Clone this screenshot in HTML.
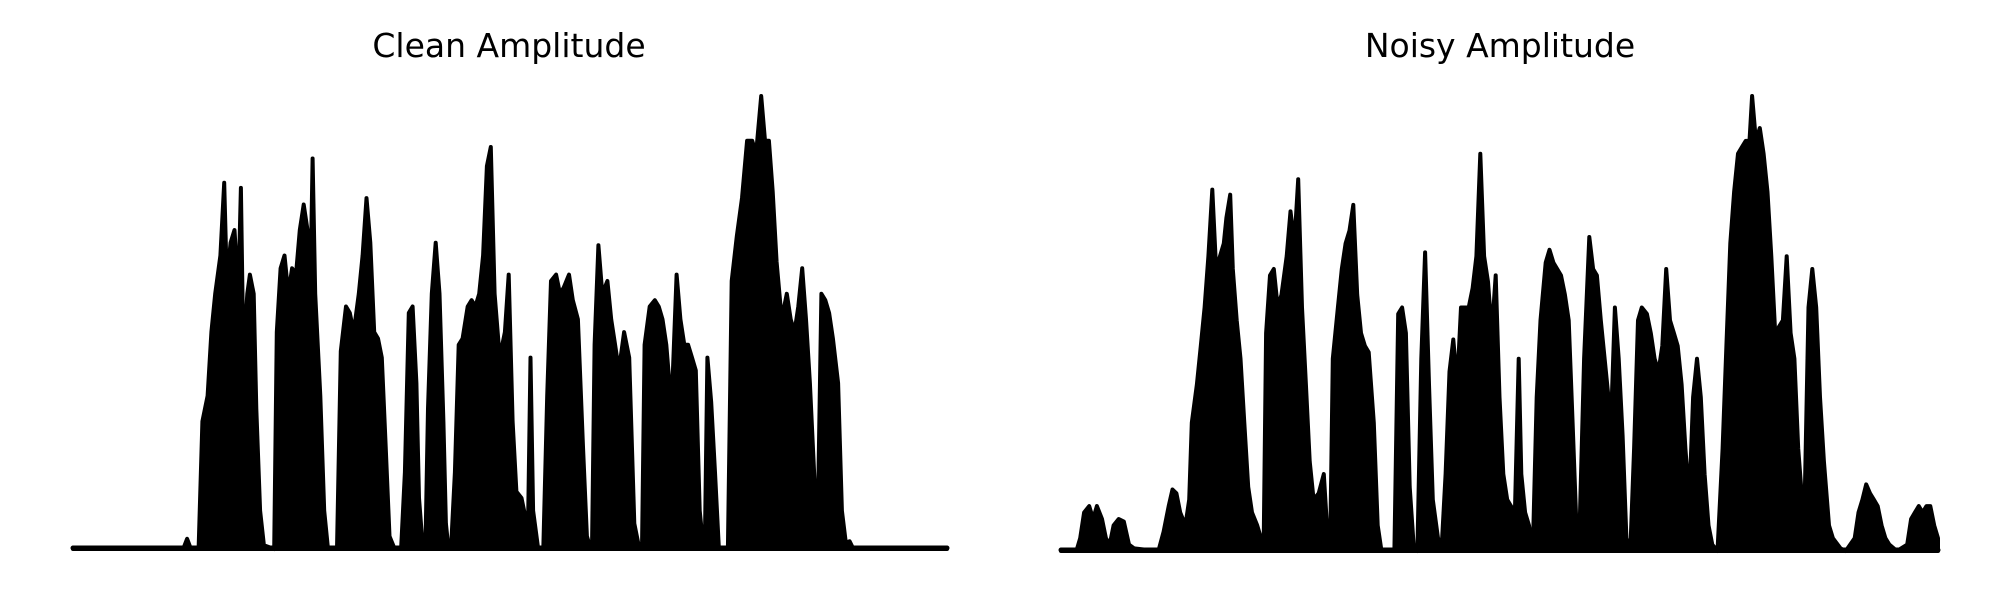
<!DOCTYPE html>
<html><head><meta charset="utf-8"><style>
html,body{margin:0;padding:0;background:#fff;}
svg{display:block;}
text{font-family:"DejaVu Sans","Liberation Sans",sans-serif;}
</style></head><body>
<svg id="chart" width="2000" height="600" viewBox="0 0 2000 600" xmlns="http://www.w3.org/2000/svg">
<text x="509" y="57" font-size="33" text-anchor="middle">Clean Amplitude</text>
<text x="1500" y="57" font-size="33" text-anchor="middle">Noisy Amplitude</text>
<g id="clean"></g>
<g id="noisy"></g>
</svg>
<script>
const cleanT = [57,143,146,149,155,158,162,165,168,172,175,177,180,183,186,188,190,193,195,198,200,203,206,214,216,219,222,225,228,231,234,237,240,242,244,246,250,253,256,263,266,270,273,276,280,283,286,289,292,295,298,301,304,308,313,316,319,322,325,327,330,332,334,337,340,343,346,348,350,352,355,358,361,365,368,371,374,377,380,383,386,390,394,397,400,403,407,410,412,414,416,420,424,427,430,434,437,440,444,447,451,455,458,461,462,464,467,470,474,477,480,483,487,491,495,499,501,503,507,511,514,517,520,524,528,531,534,537,540,543,546,549,550,552,555,558,561,568,571,575,579,583,587,590,594,597,600,603,606,610,614,617,620,623,626,629,632,636,638,641,644,647,650,654,657,660,663,666,739];
const cleanAmp = [0,0,8,0,0,100,120,170,200,230,287,210,240,250,200,283,150,200,215,200,110,30,3,0,170,220,230,200,220,215,250,270,250,190,306,200,120,30,0,0,155,190,185,170,200,230,275,240,170,165,150,80,10,0,0,60,185,190,130,40,0,0,110,200,240,200,100,20,0,0,60,160,165,190,195,190,200,230,300,315,200,150,170,215,100,45,40,25,10,150,30,0,0,120,210,215,200,205,215,195,180,80,10,0,0,160,238,200,210,180,160,140,170,150,20,0,0,160,190,195,190,180,160,110,215,180,160,160,150,140,30,0,0,150,115,60,0,0,210,245,275,320,320,310,355,320,320,280,225,180,200,180,170,190,220,180,130,45,15,200,195,185,165,130,30,5,6,0,0];
const noisyT = [828,840,843,846,850,853,856,860,863,866,869,873,877,881,885,904,908,912,915,918,921,925,928,930,934,937,940,943,946,949,952,955,957,960,962,965,968,971,974,977,981,984,986,988,991,994,997,1000,1004,1007,1010,1013,1016,1019,1022,1025,1029,1033,1036,1038,1040,1044,1047,1050,1053,1056,1059,1062,1065,1068,1072,1075,1078,1088,1091,1094,1097,1100,1103,1106,1109,1112,1115,1118,1122,1125,1128,1131,1134,1137,1140,1143,1146,1149,1152,1155,1158,1161,1164,1167,1170,1173,1176,1179,1182,1185,1187,1190,1193,1196,1199,1202,1206,1209,1212,1215,1218,1221,1224,1227,1230,1232,1236,1240,1243,1246,1249,1253,1257,1260,1263,1266,1269,1272,1275,1278,1281,1285,1288,1291,1294,1297,1300,1303,1306,1309,1312,1315,1318,1321,1324,1327,1330,1333,1336,1340,1344,1347,1350,1353,1356,1359,1362,1365,1367,1370,1373,1376,1379,1382,1385,1388,1391,1394,1397,1400,1403,1406,1408,1411,1414,1417,1420,1423,1427,1430,1436,1440,1447,1450,1453,1456,1459,1462,1465,1468,1471,1474,1480,1488,1491,1494,1497,1500,1503,1506,1509,1512];
const noisyAmp = [0,0,10,30,35,25,35,25,10,5,20,25,23,5,2,0,15,35,48,45,30,20,40,100,130,160,190,230,282,220,230,240,260,278,220,180,150,100,50,30,20,10,0,170,215,220,190,200,230,265,240,290,190,130,70,40,45,60,10,10,150,190,220,240,250,270,200,170,160,155,100,20,0,0,185,190,170,50,5,0,150,233,130,40,10,5,60,140,165,130,190,190,190,205,230,310,230,210,170,215,120,60,40,35,30,150,60,30,20,0,120,180,225,235,225,220,215,200,180,100,20,0,150,245,220,215,180,140,100,190,150,90,10,0,80,180,190,185,170,150,140,160,220,180,170,160,130,80,40,120,150,120,60,20,5,0,80,160,240,280,310,315,320,320,355,320,330,310,280,230,170,175,180,230,170,150,80,40,40,190,220,190,120,70,20,10,2,0,10,30,40,52,45,40,35,20,10,5,0,5,25,30,35,30,35,35,20,10];
const ampMax = 355;

function makeX(d0,d1,p0,p1){return v=>p0+(v-d0)/(d1-d0)*(p1-p0);}
function makeY(base,top){return a=>base-(a/ampMax)*(base-top);}

function drawPanel(gid, ts, amps, x, y, name){
  const g=document.getElementById(gid);
  const ns='http://www.w3.org/2000/svg';
  let pts=[];
  for(let i=0;i<ts.length;i++) pts.push(x(ts[i]).toFixed(1)+','+y(amps[i]).toFixed(1));
  pts.push(x(ts[ts.length-1]).toFixed(1)+','+y(0).toFixed(1));
  pts.push(x(ts[0]).toFixed(1)+','+y(0).toFixed(1));
  const p=document.createElementNS(ns,'polygon');
  p.setAttribute('points',pts.join(' '));
  p.setAttribute('fill','#000');
  p.setAttribute('stroke','#000');
  p.setAttribute('stroke-width','4');
  p.setAttribute('stroke-linejoin','round');
  
  
  g.appendChild(p);
  const l=document.createElementNS(ns,'line');
  l.setAttribute('x1',x(ts[0]));l.setAttribute('x2',x(ts[ts.length-1]));
  l.setAttribute('y1',y(0)-1);l.setAttribute('y2',y(0)-1);
  l.setAttribute('stroke','#000');l.setAttribute('stroke-width','5');
  l.setAttribute('stroke-linecap','round');
  
  
  g.appendChild(l);
}
drawPanel('clean', cleanT, cleanAmp, makeX(57,739,73,947), makeY(549,96), 'clean');
drawPanel('noisy', noisyT, noisyAmp, makeX(828,1512,1061,1938), makeY(551,96), 'noisy');
</script>
</body></html>
